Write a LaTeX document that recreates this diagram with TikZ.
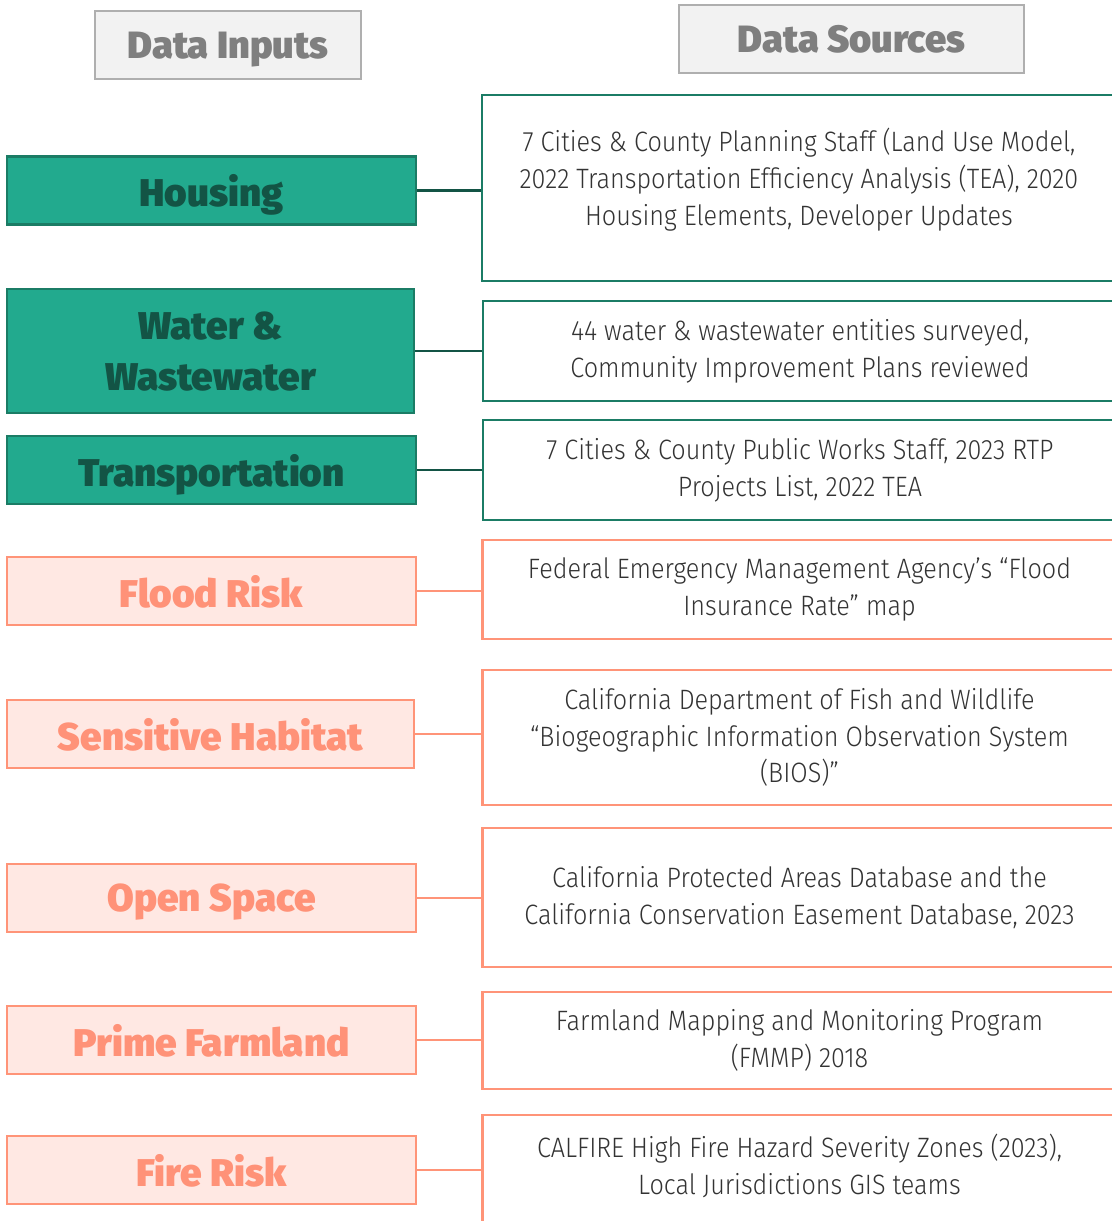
\documentclass[tikz,border=0pt]{standalone}
\usepackage{fontspec}
\usepackage{tikz}
\usetikzlibrary{positioning,calc}
\newfontfamily\headfont{Fira Sans Black}
\newfontfamily\srcfont[FakeStretch=0.9]{Fira Sans Light}
\definecolor{inGreen}{HTML}{22AA8E}
\definecolor{inGreenLine}{HTML}{1B7C65}
\definecolor{inGreenText}{HTML}{135445}
\definecolor{inPink}{HTML}{FFE8E3}
\definecolor{inPinkLine}{HTML}{FF9478}
\definecolor{inPinkText}{HTML}{FF9278}
\definecolor{hdGray}{HTML}{F2F2F2}
\definecolor{hdLine}{HTML}{AFAFAF}
\definecolor{hdText}{HTML}{7F7F7F}
\definecolor{srcText}{HTML}{333333}
\tikzset{
  header/.style={draw=hdLine, fill=hdGray, line width=1.6pt, align=center, inner sep=0pt, text depth=0pt, font=\headfont\fontsize{28.5}{32}\selectfont, text=hdText},
  greenin/.style={draw=inGreenLine, fill=inGreen, line width=1.6pt, align=center, inner sep=0pt, text depth=0pt, minimum width=409*0.75pt, minimum height=68*0.75pt, font=\headfont\fontsize{29}{38}\selectfont, text=inGreenText},
  pinkin/.style={draw=inPinkLine, fill=inPink, line width=1.6pt, align=center, inner sep=0pt, text depth=0pt, minimum width=409*0.75pt, minimum height=68*0.75pt, font=\headfont\fontsize{29}{38}\selectfont, text=inPinkText},
  greensrc/.style={draw=inGreenLine, fill=white, line width=1.6pt, align=center, inner sep=0pt, minimum width=634*0.75pt, font=\srcfont\fontsize{21}{27.6}\selectfont, text=srcText},
  pinksrc/.style={draw=inPinkLine, fill=white, line width=1.6pt, align=center, inner sep=0pt, minimum width=634*0.75pt, font=\srcfont\fontsize{21}{27.6}\selectfont, text=srcText},
  glink/.style={draw=inGreenText, line width=2.2pt},
  plink/.style={draw=inPinkLine, line width=0.8pt}
}
\begin{document}
\begin{tikzpicture}[x=0.75pt,y=-0.75pt]
  \useasboundingbox (0,0) rectangle (1111,1221);
  % column headers
  \node[header, minimum width=266*0.75pt, minimum height=68*0.75pt] (hdIn) at (228,45) {Data Inputs};
  \node[header, minimum width=345*0.75pt, minimum height=68*0.75pt] (hdSrc) at (851.5,39) {Data Sources};
  % data inputs
  \node[greenin] (housing) at (211.5,190.5) {Housing};
  \node[greenin, minimum width=407*0.75pt, minimum height=124*0.75pt] (water) at (210.5,351) {Water \&\\Wastewater};
  \node[greenin] (transport) at (211.5,470) {Transportation};
  \node[pinkin] (flood) at (211.5,591) {Flood Risk};
  \node[pinkin, minimum width=407*0.75pt] (habitat) at (210.5,734) {Sensitive Habitat};
  \node[pinkin] (openspace) at (211.5,898) {Open Space};
  \node[pinkin] (farmland) at (211.5,1040) {Prime Farmland};
  \node[pinkin] (fire) at (211.5,1170) {Fire Risk};
  % data sources
  \node[greensrc, minimum height=186*0.75pt, text depth=17pt] (srcHousing) at (799,188) {7 Cities \& County Planning Staff (Land Use Model,\\2022 Transportation Efficiency Analysis (TEA), 2020\\Housing Elements, Developer Updates};
  \node[greensrc, minimum height=100*0.75pt] (srcWater) at (800,351) {44 water \& wastewater entities surveyed,\\Community Improvement Plans reviewed};
  \node[greensrc, minimum height=100*0.75pt] (srcTransport) at (800,470) {7 Cities \& County Public Works Staff, 2023 RTP\\Projects List, 2022 TEA};
  \node[pinksrc, minimum height=99*0.75pt] (srcFlood) at (799.5,589.5) {Federal Emergency Management Agency’s “Flood\\Insurance Rate” map};
  \node[pinksrc, minimum height=135*0.75pt] (srcHabitat) at (799.5,737.5) {California Department of Fish and Wildlife\\“Biogeographic Information Observation System\\(BIOS)”};
  \node[pinksrc, minimum height=139*0.75pt] (srcOpen) at (799.5,897.5) {California Protected Areas Database and the\\California Conservation Easement Database, 2023};
  \node[pinksrc, minimum height=97*0.75pt] (srcFarm) at (799.5,1040.5) {Farmland Mapping and Monitoring Program\\(FMMP) 2018};
  \node[pinksrc, minimum height=115*0.75pt, text depth=12pt] (srcFire) at (799.5,1172.5) {CALFIRE High Fire Hazard Severity Zones (2023),\\Local Jurisdictions GIS teams};
  % links between inputs and sources
  \foreach \a/\b in {housing/srcHousing,water/srcWater,transport/srcTransport}{\draw[glink] (\a.east) -- (\a.east -| \b.west);}
  \foreach \a/\b in {flood/srcFlood,habitat/srcHabitat,openspace/srcOpen,farmland/srcFarm,fire/srcFire}{\draw[plink] (\a.east) -- (\a.east -| \b.west);}
\end{tikzpicture}
\end{document}
